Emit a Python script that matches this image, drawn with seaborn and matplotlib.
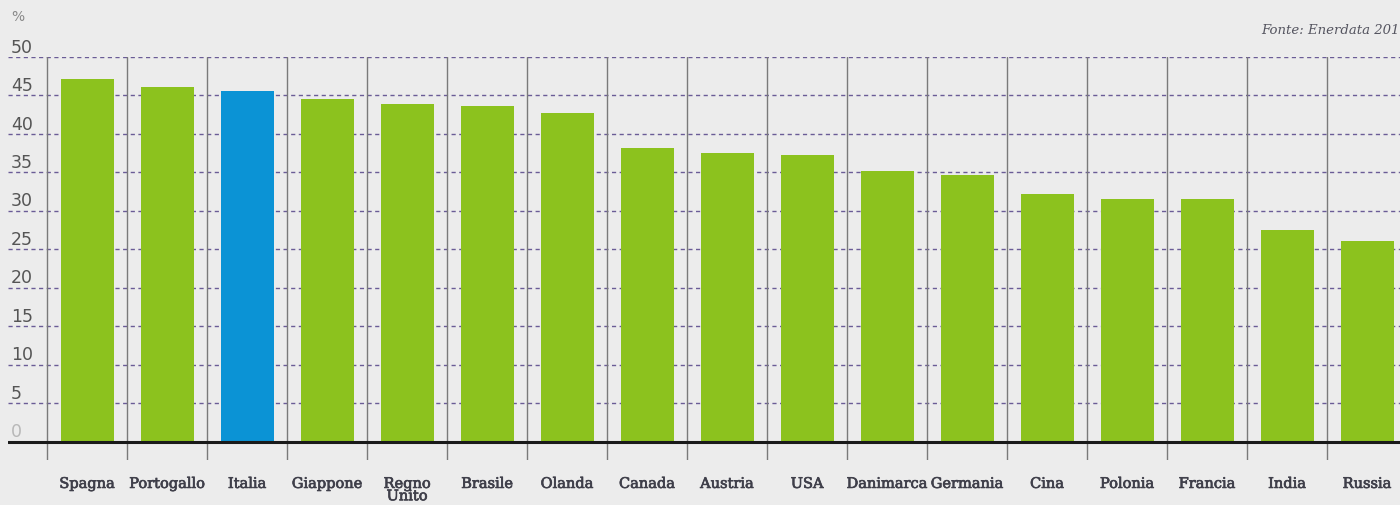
import matplotlib
matplotlib.use("Agg")
import matplotlib.pyplot as plt
import matplotlib.transforms as mtransforms
import matplotlib.patheffects as pe
import seaborn as sns
import pandas as pd

countries = ["Spagna", "Portogallo", "Italia", "Giappone", "Regno\nUnito", "Brasile",
             "Olanda", "Canada", "Austria", "USA", "Danimarca", "Germania", "Cina",
             "Polonia", "Francia", "India", "Russia"]
values = [47.1, 46.1, 45.6, 44.5, 43.9, 43.6, 42.7, 38.2, 37.5, 37.3, 35.2, 34.7,
          32.2, 31.6, 31.6, 27.5, 26.1]
highlight = "Italia"
yticks = [0, 5, 10, 15, 20, 25, 30, 35, 40, 45, 50]

GREEN = "#8cc21e"
BLUE = "#0b93d5"
BG = "#ececec"

sns.set_theme(style="white")
plt.rcParams["font.family"] = ["DejaVu Serif"]

df = pd.DataFrame({"paese": countries, "valore": values})
palette = {c: (BLUE if c == highlight else GREEN) for c in countries}

fig = plt.figure(figsize=(14, 5.05), dpi=100, facecolor=BG)
ax = fig.add_axes([8 / 1400, 45 / 505, 1 - 8 / 1400, (460 - 57) / 505])
ax.set_facecolor(BG)

sns.barplot(data=df, x="paese", y="valore", hue="paese", palette=palette,
            legend=False, width=0.66, saturation=1, linewidth=0, ax=ax, zorder=3)

n = len(countries)
ax.set_xlim(-0.99, n - 1 + 0.41)
ax.set_ylim(-2.4, 50)

# dashed horizontal grid
for v in yticks[1:]:
    ax.axhline(v, color="#6a5c96", lw=1.0, ls=(0, (3, 2.5)), zorder=1)
# vertical separators between categories
for i in range(n):
    ax.axvline(i - 0.5, ymin=0, ymax=1, color="#7a7a7a", lw=1.0, zorder=1)
# baseline
ax.axhline(0, color="#1a1a1a", lw=2.2, zorder=4)

for s in ax.spines.values():
    s.set_visible(False)
ax.set_xticks([])
ax.set_yticks([])
ax.set_xlabel("")
ax.set_ylabel("")

# y labels inside the plot area
trans = mtransforms.blended_transform_factory(ax.transAxes, ax.transData)
for v in yticks:
    ax.text(0.002, v + 0.05, str(v), transform=trans, ha="left", va="bottom",
            fontsize=12.5, family="DejaVu Sans",
            color="#b8b8b8" if v == 0 else "#555555", zorder=5)
ax.text(0.002, 54.3, "%", transform=trans, ha="left", va="bottom",
        fontsize=10, family="DejaVu Sans", color="#888888", clip_on=False)

# category labels
stroke = [pe.withStroke(linewidth=0.5, foreground="#3f3f4a")]
for i, c in enumerate(countries):
    ax.text(i, -4.6, c, ha="center", va="top", fontsize=10.5,
            color="#3f3f4a", linespacing=0.85, clip_on=False, path_effects=stroke)

fig.text(1.0, 1 - 30 / 505, "Fonte: Enerdata 201", ha="right", va="center",
         fontsize=9.5, style="italic", color="#555560")

fig.savefig("out.png", dpi=100, facecolor=BG)
